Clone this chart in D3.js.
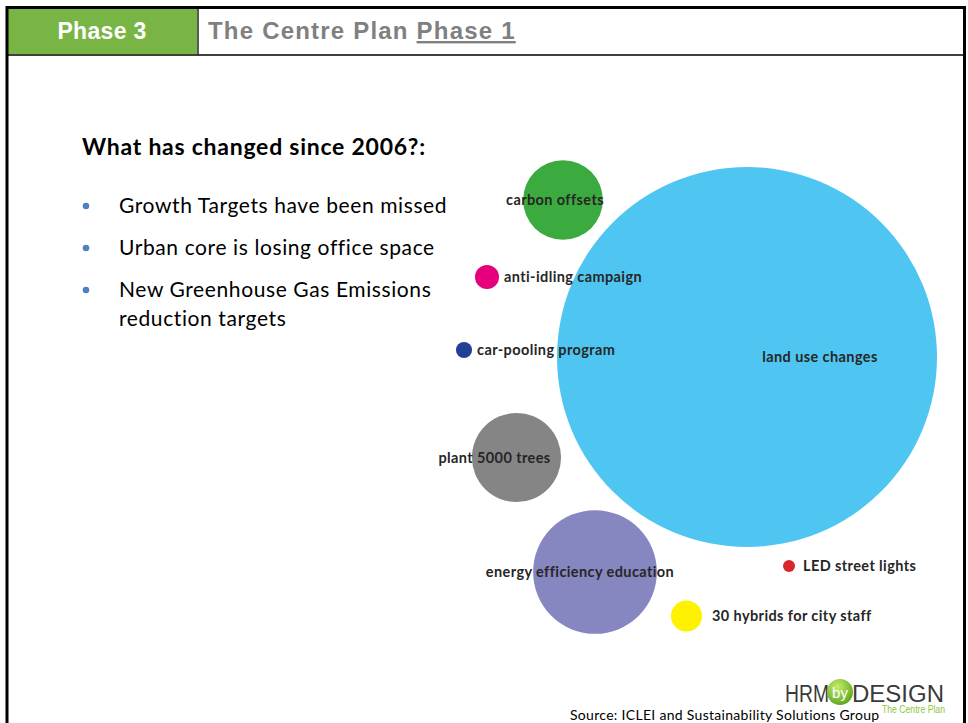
<!DOCTYPE html>
<html>
<head>
<meta charset="utf-8">
<script src="https://cdn.jsdelivr.net/npm/d3@7"></script>
<style>
  html, body { margin: 0; padding: 0; background: #fff; }
  svg { display: block; }
</style>
</head>
<body>
<script>
// bubble data (values ~ relative reduction; positions in layout units)
var names = ['land use changes', 'carbon offsets', 'anti-idling campaign', 'car-pooling program',
  'plant 5000 trees', 'energy efficiency education', '30 hybrids for city staff', 'LED street lights'];
var values = [100, 4.4, 0.4, 0.18, 5.5, 10.6, 0.67, 0.1];
var xPos = [5.94, 2.26, 0.74, 0.28, 1.33, 2.9, 4.73, 6.78];
var yPos = [5.86, 9.0, 7.46, 6.0, 3.85, 1.56, 0.68, 1.68];

var bullets = ['Growth Targets have been missed', 'Urban core is losing office space',
  'New Greenhouse Gas Emissions|reduction targets'];

var width = 968;
var height = 723;

var colors = d3.scaleOrdinal()
  .domain(names)
  .range(['#4fc6f1', '#3cab3f', '#e6007e', '#213f95', '#858585', '#8686c0', '#fff200', '#d8262f']);

// label placement: 'c' = inside with shift, 'r' = right of bubble
var labelMode = ['c', 'c', 'r', 'r', 'c', 'c', 'r', 'r'];
var labelShift = [73, -8, 17, 13, -22, -15, 25.5, 14];

var x = d3.scaleLinear().domain([0, 10]).range([450, 950]);
var y = d3.scaleLinear().domain([0, 10]).range([650, 150]);
var r = d3.scaleSqrt().domain([0, 100]).range([0, 190]);

var svg = d3.select('body').append('svg')
  .attr('width', width)
  .attr('height', height);

var drawFrame = function() {
  svg.append('rect').attr('x', 8).attr('y', 9).attr('width', 189).attr('height', 45)
    .style('fill', '#78b545');
  svg.append('line').attr('x1', 7).attr('x2', 7).attr('y1', 6).attr('y2', height)
    .style('stroke', '#000').style('stroke-width', 3);
  svg.append('line').attr('x1', 964.5).attr('x2', 964.5).attr('y1', 6).attr('y2', height)
    .style('stroke', '#000').style('stroke-width', 3);
  svg.append('line').attr('x1', 6).attr('x2', 966).attr('y1', 7.5).attr('y2', 7.5)
    .style('stroke', '#000').style('stroke-width', 3);
  svg.append('line').attr('x1', 6).attr('x2', 966).attr('y1', 55).attr('y2', 55)
    .style('stroke', '#000').style('stroke-width', 1.5);
  svg.append('line').attr('x1', 198).attr('x2', 198).attr('y1', 9).attr('y2', 55)
    .style('stroke', '#222').style('stroke-width', 1.5);

  svg.append('text').attr('x', 102).attr('y', 39)
    .attr('text-anchor', 'middle')
    .style('font-family', 'Liberation Sans, Arial, sans-serif')
    .style('font-weight', 'bold').style('font-size', '23px')
    .style('letter-spacing', '0.3px')
    .style('fill', '#fff')
    .text('Phase 3');

  var t = svg.append('text').attr('x', 208).attr('y', 39)
    .style('font-family', 'Liberation Sans, Arial, sans-serif')
    .style('font-weight', 'bold').style('font-size', '24px')
    .style('letter-spacing', '1.2px')
    .style('fill', '#808080');
  t.append('tspan').text('The Centre Plan ');
  t.append('tspan').style('text-decoration', 'underline').text('Phase 1');
};

var drawText = function() {
  svg.append('text').attr('x', 82).attr('y', 155)
    .style('font-family', 'Lato, sans-serif')
    .style('font-weight', 'bold').style('font-size', '23px')
    .style('letter-spacing', '0.75px')
    .style('fill', '#000')
    .text('What has changed since 2006?:');

  var lineY = 213;
  bullets.forEach(function(b) {
    svg.append('circle').attr('cx', 86).attr('cy', lineY - 7).attr('r', 3.3)
      .style('fill', '#4f81bd');
    b.split('|').forEach(function(part) {
      svg.append('text').attr('x', 119).attr('y', lineY)
        .style('font-family', 'Lato, sans-serif')
        .style('font-size', '21px')
        .style('letter-spacing', '0.6px')
        .style('fill', '#000')
        .text(part);
      lineY += 29;
    });
    lineY += 13;
  });
};

var drawBubbles = function() {
  var g = svg.append('g');
  var idx = d3.range(names.length);

  g.selectAll('circle.bubble')
    .data(idx)
    .enter().append('circle')
    .attr('class', 'bubble')
    .attr('cx', function(i) { return x(xPos[i]); })
    .attr('cy', function(i) { return y(yPos[i]); })
    .attr('r', function(i) { return r(values[i]); })
    .style('fill', function(i) { return colors(names[i]); });

  g.selectAll('text.lbl')
    .data(idx)
    .enter().append('text')
    .attr('class', 'lbl')
    .attr('x', function(i) { return x(xPos[i]) + labelShift[i]; })
    .attr('y', function(i) { return y(yPos[i]); })
    .attr('dy', '0.35em')
    .attr('text-anchor', function(i) { return labelMode[i] === 'c' ? 'middle' : 'start'; })
    .style('font-family', 'Lato, sans-serif')
    .style('font-weight', 'bold')
    .style('font-size', '14.5px')
    .style('letter-spacing', '0.4px')
    .style('fill', '#262626')
    .text(function(i) { return names[i]; });
};

var drawFooter = function() {
  svg.append('text').attr('x', 570).attr('y', 720)
    .style('font-family', 'Lato, sans-serif')
    .style('font-size', '14px')
    .style('letter-spacing', '0.3px')
    .style('fill', '#000')
    .text('Source: ICLEI and Sustainability Solutions Group');

  var defs = svg.append('defs');
  var grad = defs.append('radialGradient').attr('id', 'logoGrad')
    .attr('cx', '40%').attr('cy', '30%').attr('r', '70%');
  grad.append('stop').attr('offset', '0%').attr('stop-color', '#c8ec6a');
  grad.append('stop').attr('offset', '100%').attr('stop-color', '#5ea923');

  svg.append('text').attr('x', 785).attr('y', 702)
    .style('font-family', 'Liberation Sans, Arial, sans-serif')
    .style('font-size', '23px')
    .style('fill', '#3a3a3a')
    .attr('textLength', 44).attr('lengthAdjust', 'spacingAndGlyphs')
    .text('HRM');
  svg.append('circle').attr('cx', 840).attr('cy', 692).attr('r', 13)
    .style('fill', 'url(#logoGrad)');
  svg.append('text').attr('x', 840).attr('y', 698)
    .attr('text-anchor', 'middle')
    .style('font-family', 'Liberation Sans, Arial, sans-serif')
    .style('font-size', '15px')
    .style('fill', '#fff')
    .text('by');
  svg.append('text').attr('x', 852).attr('y', 702)
    .style('font-family', 'Liberation Sans, Arial, sans-serif')
    .style('font-size', '23px')
    .style('fill', '#3a3a3a')
    .attr('textLength', 92).attr('lengthAdjust', 'spacingAndGlyphs')
    .text('DESIGN');
  svg.append('text').attr('x', 882).attr('y', 713)
    .style('font-family', 'Liberation Sans, Arial, sans-serif')
    .style('font-size', '10px')
    .style('fill', '#8dc63f')
    .attr('textLength', 63).attr('lengthAdjust', 'spacingAndGlyphs')
    .text('The Centre Plan');
};

drawFrame();
drawText();
drawBubbles();
drawFooter();
</script>
</body>
</html>
